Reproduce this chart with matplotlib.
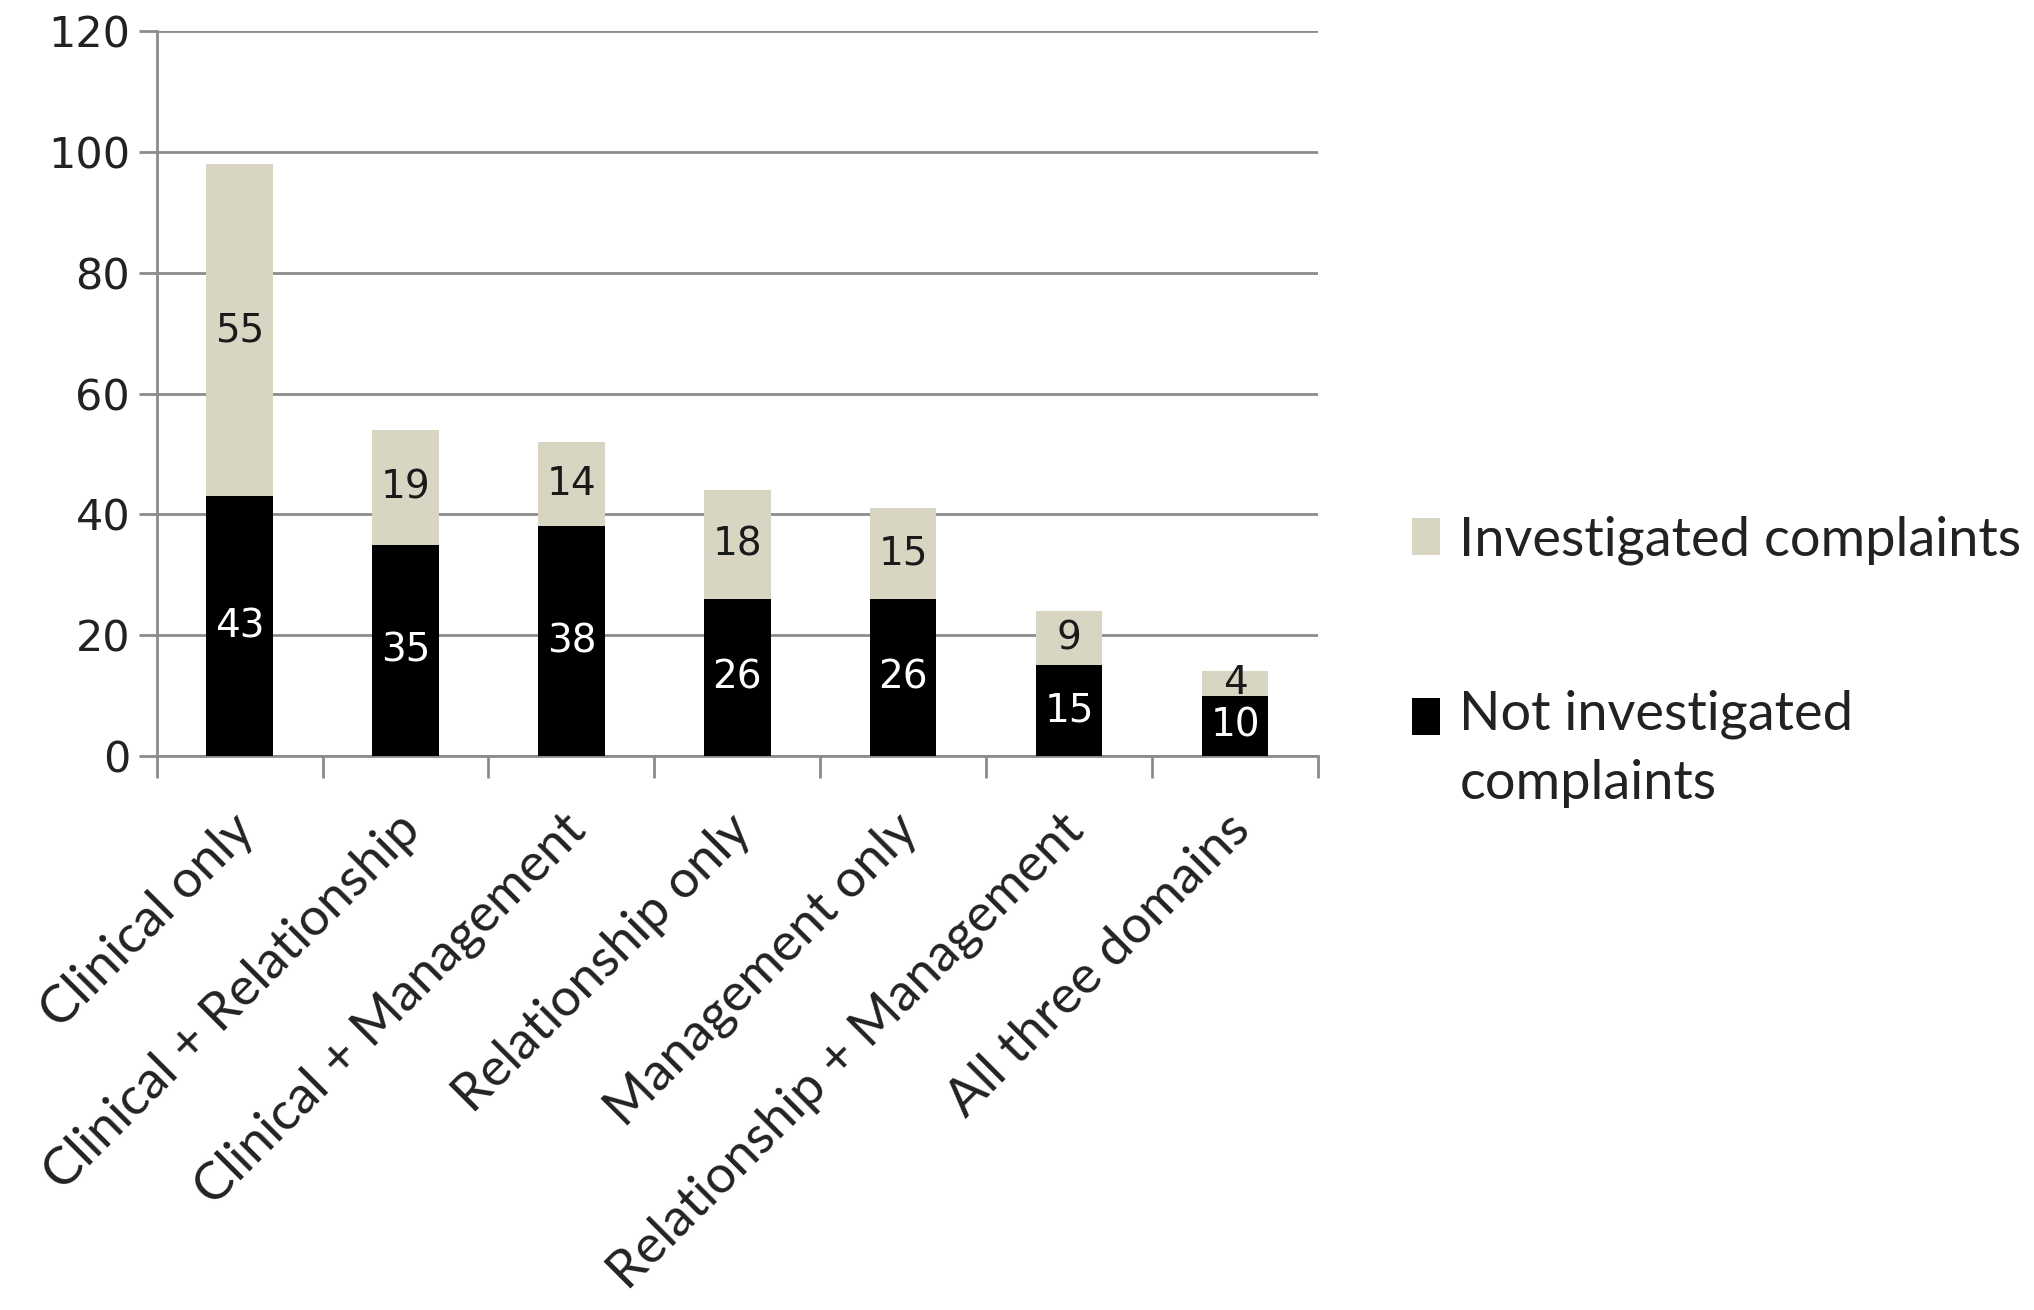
import matplotlib
matplotlib.use("Agg")
import matplotlib.pyplot as plt
import numpy as np
from matplotlib.patches import Patch, Rectangle
from matplotlib.legend_handler import HandlerPatch
from matplotlib.transforms import ScaledTranslation

categories = ["Clinical only", "Clinical + Relationship", "Clinical + Management",
              "Relationship only", "Management only", "Relationship + Management",
              "All three domains"]
not_investigated = [43, 35, 38, 26, 26, 15, 10]
investigated = [55, 19, 14, 18, 15, 9, 4]
yticks = [0, 20, 40, 60, 80, 100, 120]

light = "#D8D6C2"
dark = "#000000"
grid_c = "#8C8C8C"
txt_c = "#222222"

plt.rcParams['font.family'] = ['DejaVu Sans']
fig = plt.figure(figsize=(20.34, 13.10), dpi=100)
ax = fig.add_axes([0.077, 0.423, 0.571, 0.553])

x = np.arange(len(categories))
b1 = ax.bar(x, not_investigated, width=0.4, color=dark, zorder=3)
b2 = ax.bar(x, investigated, width=0.4, bottom=not_investigated, color=light, zorder=3)

for rect, v in zip(b1, not_investigated):
    ax.text(rect.get_x() + rect.get_width() / 2, rect.get_y() + rect.get_height() / 2,
            str(v), ha='center', va='center', color='white', fontsize=28, zorder=4)
for rect, v in zip(b2, investigated):
    ax.text(rect.get_x() + rect.get_width() / 2, rect.get_y() + rect.get_height() / 2,
            str(v), ha='center', va='center', color='#1a1a1a', fontsize=28, zorder=4)

ax.set_xlim(-0.5, len(categories) - 0.5)
ax.set_ylim(0, 120)
ax.set_yticks(yticks)
ax.set_yticklabels([str(t) for t in yticks], fontsize=31, color=txt_c)
ax.yaxis.grid(True, color=grid_c, linewidth=2, zorder=0)
ax.tick_params(axis='y', length=13, width=2, color=grid_c, pad=6)

ax.set_xticks(x)
ax.set_xticklabels(categories, rotation=45, ha='right', rotation_mode='anchor',
                   fontsize=38, color=txt_c, family='Lato')
ax.set_xticks(np.arange(-0.5, len(categories)), minor=True)
ax.tick_params(axis='x', which='major', length=0, pad=36)
ax.tick_params(axis='x', which='minor', length=16, width=2, color=grid_c)
shift = ScaledTranslation(-7 / 72, 0, fig.dpi_scale_trans)
for lbl in ax.get_xticklabels():
    lbl.set_transform(lbl.get_transform() + shift)

for s in ['top', 'right']:
    ax.spines[s].set_visible(False)
for s in ['left', 'bottom']:
    ax.spines[s].set_color(grid_c)
    ax.spines[s].set_linewidth(2)


class TopAlignedPatch(HandlerPatch):
    def __init__(self, shift=0.0, **kw):
        super().__init__(**kw)
        self.shift = shift

    def create_artists(self, legend, orig_handle, xdescent, ydescent, width, height,
                       fontsize, trans):
        p = Rectangle((-xdescent, -ydescent + self.shift), width, height,
                      facecolor=orig_handle.get_facecolor(), edgecolor='none',
                      transform=trans)
        return [p]


leg_fs = 39
line_sp = 1.5
handles = [Patch(facecolor=light, edgecolor='none'), Patch(facecolor=dark, edgecolor='none')]
labels = ["Investigated complaints", "Not investigated\ncomplaints"]
leg = fig.legend(handles, labels, loc='center left', bbox_to_anchor=(0.694, 0.495),
                 frameon=False, prop={'family': 'Lato', 'size': leg_fs},
                 handlelength=0.53, handleheight=0.67, borderpad=0, borderaxespad=0,
                 handletextpad=0.35, labelspacing=2.3,
                 handler_map={handles[0]: TopAlignedPatch(0.0),
                              handles[1]: TopAlignedPatch(24.0)})
for t in leg.get_texts():
    t.set_color(txt_c)
    t.set_linespacing(line_sp)

fig.savefig("out.png", dpi=100, facecolor='white')
